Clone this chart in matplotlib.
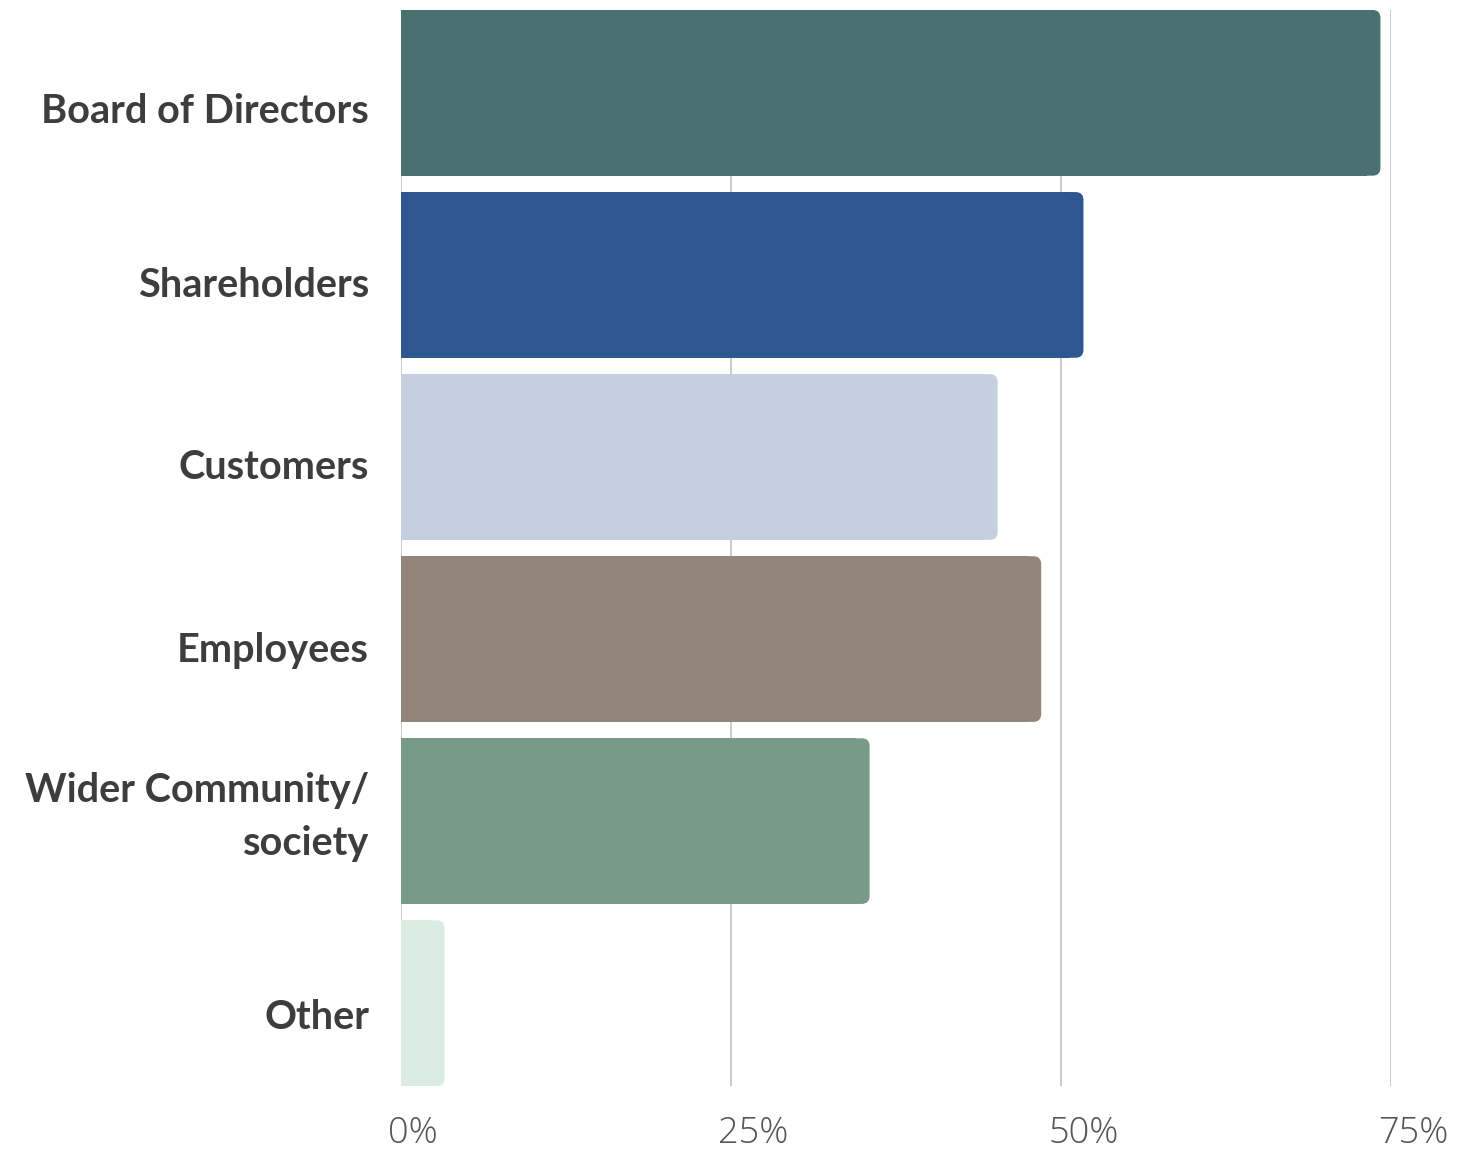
import numpy as np
import matplotlib.pyplot as plt
from matplotlib.patches import FancyBboxPatch
from matplotlib.transforms import offset_copy

categories = ['Board of Directors', 'Shareholders', 'Customers', 'Employees',
              'Wider Community/\nsociety', 'Other']
values = [74.2, 51.7, 45.2, 48.5, 35.5, 3.3]
colors = ['#4a7070', '#2f578f', '#c6cfe0', '#938579', '#789a88', '#dbede2']
ticks = [0, 25, 50, 75]
tick_labels = ['0%', '25%', '50%', '75%']

fig = plt.figure(figsize=(14.68, 11.5), dpi=100)
ax = fig.add_axes([401 / 1468, 1 - 1086 / 1150, 990 / 1468, 1076 / 1150])

y = np.arange(len(categories))
bar_h = 0.91
radius = 0.6  # in x units (~8 px)
# aspect for rounding: y units per px / x units per px
aspect = (1 / 182) / (1 / 13.2)

for yi, v, c in zip(y, values, colors):
    # square left part, rounded right end
    ax.barh(yi, max(v - 1.0, 0), height=bar_h, color=c, zorder=2)
    p = FancyBboxPatch((0, yi - bar_h / 2), v, bar_h,
                       boxstyle=f'round,pad=0,rounding_size={radius}',
                       mutation_aspect=aspect, fc=c, ec='none', zorder=2)
    ax.add_patch(p)

ax.set_xlim(0, 75)
ax.set_ylim(len(categories) - 1 + bar_h / 2, -bar_h / 2)

for t in ticks:
    ax.axvline(t, color='#c8c8c8', lw=1.3, zorder=1)

for s in ax.spines.values():
    s.set_visible(False)

ax.set_yticks([])
ax.set_xticks([])

# category labels sit a little off the bar centres in the original
nudge = [-19, -11, -11, -11, 4, -14]
for yi, lab, dy in zip(y, categories, nudge):
    tr = offset_copy(ax.transData, fig=fig, x=-32, y=dy, units='dots')
    ax.text(0, yi, lab, transform=tr, ha='right', va='center', fontsize=28.5,
            fontweight='bold', color='#3d3d3d', family=['Lato', 'DejaVu Sans'],
            linespacing=1.55, multialignment='right')

for t, lab in zip(ticks, tick_labels):
    tr = offset_copy(ax.get_xaxis_transform(), fig=fig, x=-13, y=0, units='dots')
    ax.text(t, -0.027, lab, transform=tr, ha='left', va='top', fontsize=26,
            fontweight='light', color='#555555', family=['Open Sans', 'DejaVu Sans'])

fig.savefig('out.png', dpi=100, facecolor='white')
